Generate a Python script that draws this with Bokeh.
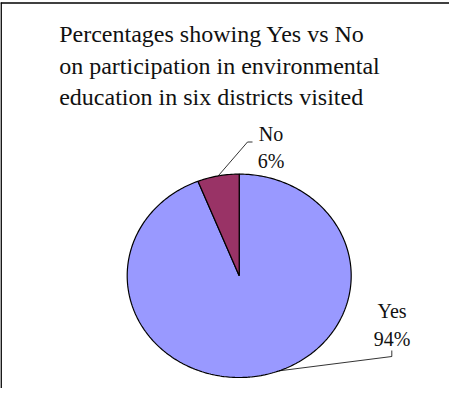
import numpy as np
from bokeh.plotting import figure
from bokeh.models import ColumnDataSource, Range1d
from bokeh.core.properties import value
from bokeh.embed import file_html
from bokeh.resources import INLINE

# ---- data ----
categories = ["Yes", "No"]
percent = [94, 6]
colors = ["#9999FF", "#993366"]
title_lines = ["Percentages showing  Yes vs No",
               "on participation in  environmental",
               "education in six districts visited"]

# ---- layout (pixel-like data space) ----
W, H = 449, 388
cx, cy = 238.7, 112.7
rx, ry = 112.0, 101.7
FONT = value("Liberation Serif")

p = figure(width=W, height=H, output_backend="svg", toolbar_location=None,
           x_range=Range1d(0, W), y_range=Range1d(0, H),
           min_border=0, outline_line_color=None)
p.axis.visible = False
p.grid.visible = False
p.background_fill_color = "white"
p.border_fill_color = "white"

# frame lines (left & top)
p.line([0.6, 0.6], [0, 386], line_color="black", line_width=1.6)
p.line([0, W], [385.5, 385.5], line_color="black", line_width=1.3)

# slices: clockwise from 12 o'clock
total = float(sum(percent))
start = np.pi / 2
xs, ys, mids = [], [], []
for v in percent:
    sweep = 2 * np.pi * v / total
    end = start - sweep
    t = np.linspace(start, end, max(int(abs(sweep) * 60), 8))
    xs.append([cx] + list(cx + rx * np.cos(t)) + [cx])
    ys.append([cy] + list(cy + ry * np.sin(t)) + [cy])
    mids.append((start + end) / 2)
    start = end

src = ColumnDataSource(dict(xs=xs, ys=ys, color=colors, cat=categories))
p.patches("xs", "ys", source=src, fill_color="color", line_color="black",
          line_width=1.2)

# leader lines
yes_mid, no_mid = mids[0], mids[1]
nx0, ny0 = cx + rx * np.cos(no_mid), cy + ry * np.sin(no_mid)
p.line([nx0, 247, 252], [ny0, 246.5, 246.5], line_color="black", line_width=0.8)
ya = yes_mid + np.radians(10)
yx0, yy0 = cx + rx * np.cos(ya), cy + ry * np.sin(ya)
p.line([yx0, 391.3, 391.3], [yy0, 32, 38], line_color="black", line_width=0.8)

# data labels
lab = ColumnDataSource(dict(
    x=[270.5, 270.5, 391.5, 391.5],
    y=[255, 227.7, 77.5, 50],
    t=[categories[1], f"{percent[1]}%", categories[0], f"{percent[0]}%"]))
p.text("x", "y", text="t", source=lab, text_font=FONT, text_font_size="20px",
       text_align="center", text_baseline="alphabetic", text_color="#111111")

# title
tsrc = ColumnDataSource(dict(x=[58.7] * 3, y=[354.3, 323, 291.7], t=title_lines))
p.text("x", "y", text="t", source=tsrc, text_font=FONT, text_font_size="24px",
       text_align="left", text_baseline="alphabetic", text_color="#111111")

open("out.html", "w").write(file_html(p, INLINE))
